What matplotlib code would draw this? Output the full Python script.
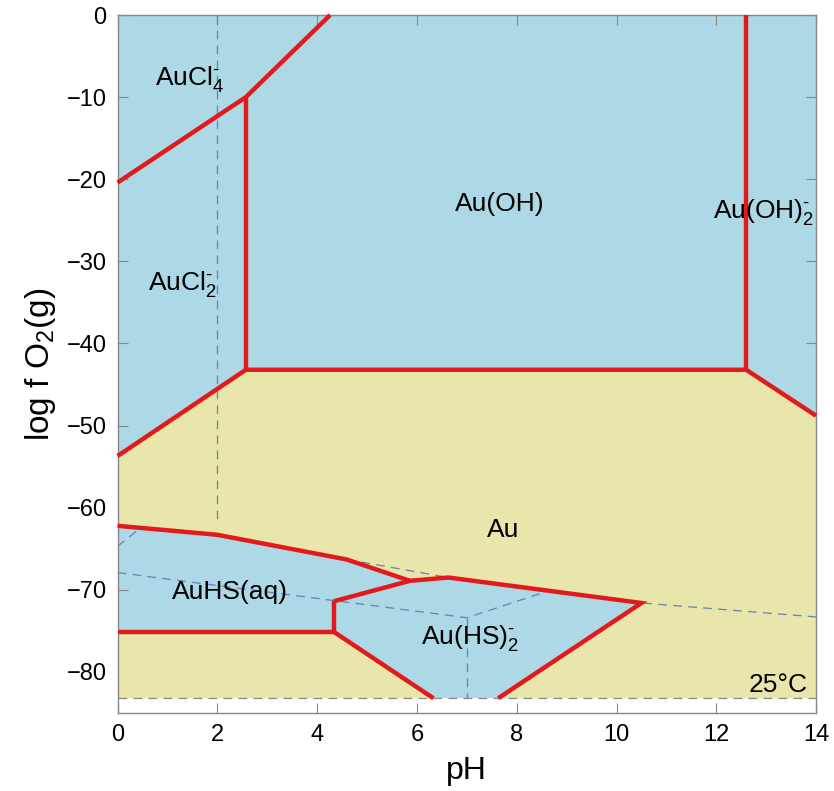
import matplotlib
matplotlib.use("Agg")
import matplotlib.pyplot as plt

plt.rcParams['font.family'] = ['Liberation Sans', 'DejaVu Sans']
plt.rcParams['mathtext.fontset'] = 'custom'
plt.rcParams['mathtext.rm'] = 'Liberation Sans'
plt.rcParams['mathtext.it'] = 'Liberation Sans:italic'
plt.rcParams['mathtext.default'] = 'regular'

# axis range
PH_MIN, PH_MAX = 0, 14
LOGF_MIN, LOGF_MAX = -85, 0
FLOOR = -83.2   # lower edge of the computed diagram

# Au (native gold) stability field
au_ph = [0, 2.57, 12.6, 14, 14, 7.63, 10.5, 6.63, 5.86, 4.59, 2.0, 0]
au_logf = [-53.7, -43.2, -43.2, -48.8, FLOOR, FLOOR, -71.6, -68.5, -68.9, -66.3, -63.3, -62.2]
au_low_ph = [0, 4.33, 6.33, 0]
au_low_logf = [-75.1, -75.1, FLOOR, FLOOR]

# red field boundaries
bounds = [
    ([0, 2.57, 4.26], [-20.4, -10.0, 0]),
    ([2.57, 2.57], [-10.0, -43.2]),
    ([0, 2.57, 12.6, 14], [-53.7, -43.2, -43.2, -48.8]),
    ([12.6, 12.6], [0, -43.2]),
    ([0, 2.0, 4.59, 5.86], [-62.2, -63.3, -66.3, -68.9]),
    ([4.33, 5.86, 6.63, 10.5, 7.63], [-71.4, -68.9, -68.5, -71.6, FLOOR]),
    ([0, 4.33, 4.33], [-75.1, -75.1, -71.4]),
    ([4.33, 6.33], [-75.1, FLOOR]),
]

# dashed ligand boundaries
dashed = [
    ([2, 2], [0, -62.0]),
    ([0, 0.45], [-64.7, -62.5]),
    ([0, 7.0, 8.65], [-67.9, -73.4, -70.1]),
    ([4.59, 6.63, 10.5, 14], [-66.3, -68.5, -71.6, -73.3]),
    ([7.0, 7.0], [-73.4, FLOOR]),
]

labels = [
    ("AuCl$_4^{\u2010}$", 1.45, -7.8),
    ("AuCl$_2^{\u2010}$", 1.3, -32.8),
    ("Au(OH)", 7.66, -23.0),
    ("Au(OH)$_2^{\u2010}$", 12.95, -24.0),
    ("Au", 7.72, -62.7),
    ("AuHS(aq)", 2.25, -70.3),
    ("Au(HS)$_2^{\u2010}$", 7.06, -75.9),
]

blue = '#add8e6'
yellow = '#e8e6aa'
red = '#e31a1c'

fig = plt.figure(figsize=(8.34, 7.91), dpi=100)
ax = fig.add_axes([0.141, 0.0986, 0.8375, 0.8824])

ax.fill([PH_MIN, PH_MAX, PH_MAX, PH_MIN], [FLOOR, FLOOR, LOGF_MAX, LOGF_MAX],
        color=blue, lw=0, zorder=1)
ax.fill(au_ph, au_logf, color=yellow, lw=0, zorder=2)
ax.fill(au_low_ph, au_low_logf, color=yellow, lw=0, zorder=2)

for x, y in dashed:
    ax.plot(x, y, color='#6a7fb5', lw=0.9, ls=(0, (7, 5)), zorder=3)
ax.plot([PH_MIN, PH_MAX], [FLOOR, FLOOR], color='#888888', lw=0.9,
        ls=(0, (7, 5)), zorder=3)

for x, y in bounds:
    ax.plot(x, y, color=red, lw=3.2, solid_capstyle='butt',
            solid_joinstyle='miter', zorder=4, clip_on=False)

for txt, x, y in labels:
    ax.text(x, y, txt, fontsize=19, ha='center', va='center', zorder=5)
ax.text(13.84, -81.6, "25°C", fontsize=19, ha='right', va='center', zorder=5)

ax.set_xlim(PH_MIN, PH_MAX)
ax.set_ylim(LOGF_MIN, LOGF_MAX)
ax.set_xticks(range(0, 15, 2))
ax.set_yticks(range(-80, 1, 10))
ax.tick_params(direction='in', length=7, color='#888888', labelsize=17,
               top=True, right=True, pad=8)
for s in ax.spines.values():
    s.set_color('#888888')
    s.set_linewidth(1.0)

ax.set_xlabel("pH", fontsize=23, labelpad=7)
ax.set_ylabel("log f O$_2$(g)", fontsize=24, labelpad=6)

fig.savefig("out.png", dpi=100)
